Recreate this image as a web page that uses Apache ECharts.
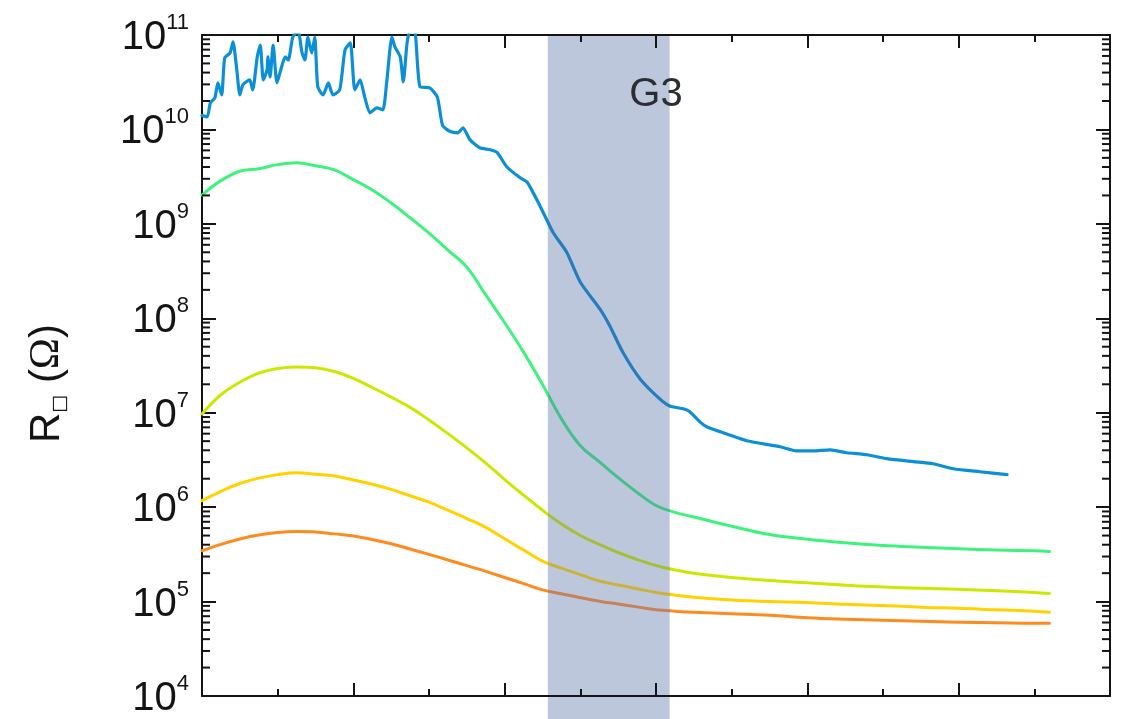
<!DOCTYPE html>
<html>
<head>
<meta charset="utf-8">
<script src="https://cdn.jsdelivr.net/npm/echarts@6/dist/echarts.min.js"></script>
<style>
  html, body { margin: 0; padding: 0; background: #ffffff; }
  #chart { width: 1129px; height: 719px; }
</style>
</head>
<body>
<div id="chart"></div>
<script>
// Sheet resistance sweeps (log scale). Shared x positions for the smooth curves.
const sweepX = [0, 0.25, 0.5, 0.75, 1, 1.25, 1.5, 1.75, 2, 2.25, 2.5, 2.75, 3, 3.25, 3.5, 3.75, 4, 4.25, 4.5,
  4.75, 5, 5.25, 5.5, 5.75, 6, 6.25, 6.5, 7, 7.5, 8, 8.5, 9, 9.5, 10, 10.5, 11, 11.2];

const rGreen = [2.02e9, 2.87e9, 3.61e9, 3.84e9, 4.24e9, 4.43e9, 4.12e9, 3.73e9, 2.94e9, 2.28e9, 1.66e9, 1.16e9,
  7.98e8, 5.28e8, 3.47e8, 1.77e8, 8.96e7, 4.38e7, 1.99e7, 8.61e6, 4.47e6, 3.03e6, 2.05e6, 1.43e6, 1.04e6, 8.8e5,
  7.87e5, 6.28e5, 5.13e5, 4.57e5, 4.19e5, 3.93e5, 3.77e5, 3.63e5, 3.52e5, 3.45e5, 3.4e5];
const rYellowGreen = [9.7e6, 1.55e7, 2.1e7, 2.62e7, 2.94e7, 3.05e7, 2.99e7, 2.73e7, 2.31e7, 1.85e7, 1.46e7, 1.14e7,
  8.38e6, 6.01e6, 4.24e6, 2.93e6, 1.96e6, 1.34e6, 9.27e5, 6.62e5, 5.01e5, 4.03e5, 3.31e5, 2.79e5, 2.41e5, 2.16e5,
  1.99e5, 1.80e5, 1.67e5, 1.58e5, 1.49e5, 1.43e5, 1.38e5, 1.35e5, 1.30e5, 1.25e5, 1.22e5];
const rYellow = [1.17e6, 1.47e6, 1.78e6, 2.03e6, 2.21e6, 2.32e6, 2.23e6, 2.14e6, 1.94e6, 1.75e6, 1.54e6, 1.32e6,
  1.13e6, 9.28e5, 7.57e5, 6.11e5, 4.63e5, 3.51e5, 2.68e5, 2.26e5, 1.93e5, 1.65e5, 1.50e5, 1.37e5, 1.25e5, 1.17e5,
  1.11e5, 1.04e5, 1.0e5, 9.8e4, 9.35e4, 9.1e4, 8.7e4, 8.5e4, 8.18e4, 7.9e4, 7.7e4];
const rOrange = [3.45e5, 4.03e5, 4.6e5, 5.06e5, 5.39e5, 5.52e5, 5.46e5, 5.21e5, 4.95e5, 4.54e5, 4.1e5, 3.6e5,
  3.16e5, 2.76e5, 2.4e5, 2.09e5, 1.8e5, 1.55e5, 1.33e5, 1.21e5, 1.10e5, 1.01e5, 9.42e4, 8.79e4, 8.2e4, 7.91e4,
  7.7e4, 7.43e4, 7.16e4, 6.74e4, 6.5e4, 6.34e4, 6.19e4, 6.04e4, 5.97e4, 5.9e4, 5.9e4];

// Highest-resistance trace: noisy at the start, so it keeps its own x positions.
const blueTrace = [
  [0, 1.40e10], [0.07, 1.36e10], [0.11, 1.91e10], [0.17, 2.16e10], [0.21, 3.11e10], [0.26, 2.32e10],
  [0.30, 5.71e10], [0.37, 6.45e10], [0.41, 8.44e10], [0.46, 4.27e10], [0.50, 2.32e10], [0.54, 2.97e10],
  [0.63, 3.35e10], [0.67, 2.62e10], [0.73, 5.86e10], [0.77, 7.84e10], [0.81, 3.35e10], [0.86, 4.27e10],
  [0.87, 5.86e10], [0.90, 3.6e10], [0.94, 7.84e10], [0.99, 3.11e10], [1.03, 3.97e10], [1.10, 5.86e10],
  [1.14, 5.44e10], [1.20, 9.5e10], [1.27, 1.1e11], [1.32, 6.6e10], [1.36, 5.44e10], [1.40, 9.5e10],
  [1.45, 6.45e10], [1.49, 9.5e10], [1.53, 2.83e10], [1.60, 2.32e10], [1.67, 3.11e10], [1.73, 2.32e10],
  [1.82, 2.62e10], [1.89, 6.95e10], [1.96, 8.24e10], [2.02, 2.62e10], [2.09, 3.35e10], [2.15, 2.21e10],
  [2.22, 1.50e10], [2.31, 1.69e10], [2.39, 1.61e10], [2.44, 3.11e10], [2.51, 9.5e10], [2.55, 7.47e10],
  [2.62, 5.86e10], [2.66, 3.19e10], [2.71, 8.24e10], [2.75, 1.1e11], [2.81, 1.1e11], [2.88, 2.83e10],
  [3.01, 2.75e10], [3.11, 2.2e10], [3.18, 1.1e10], [3.28, 9.5e9], [3.38, 9.2e9], [3.45, 1.04e10],
  [3.54, 7.8e9], [3.67, 6.4e9], [3.81, 6.1e9], [3.90, 5.7e9], [4.03, 4.0e9], [4.20, 3.09e9],
  [4.30, 2.74e9], [4.47, 1.53e9], [4.64, 8.1e8], [4.82, 5.0e8], [5.00, 2.41e8], [5.26, 1.25e8],
  [5.39, 8.3e7], [5.56, 4.39e7], [5.79, 2.28e7], [6.05, 1.40e7], [6.18, 1.18e7], [6.36, 1.10e7],
  [6.45, 1.02e7], [6.58, 8.0e6], [6.67, 7.1e6], [6.85, 6.28e6], [7.20, 5.05e6], [7.64, 4.36e6],
  [7.86, 3.95e6], [8.07, 3.95e6], [8.30, 4.05e6], [8.52, 3.77e6], [8.79, 3.59e6], [9.05, 3.26e6],
  [9.40, 3.03e6], [9.66, 2.88e6], [9.93, 2.55e6], [10.28, 2.37e6], [10.64, 2.21e6]
];

// Shaded gate window and its label.
const gateBand = [4.57, 6.18];
const gateLabel = 'G3';
const gateLabelAt = [6.0, 2.3e10];

// Axis ranges.
const xRange = [0, 12];
const rRange = [1e4, 1e11];

const INK = '#141414';
const BAND = '#bdc7db';
const SANS = '"Liberation Sans", Arial, Helvetica, sans-serif';

// Trace colours: [outside the window, seen through the window].
const palette = {
  blue: ['#0b8fd6', '#237dbe'],
  green: ['#3ef27e', '#45c08a'],
  yellowGreen: ['#cde800', '#a6be3c'],
  yellow: ['#ffd200', '#c9b23e'],
  orange: ['#ff8a1e', '#c4825a']
};

function zip(xs, ys) { return xs.map((x, i) => [x, ys[i]]); }

const chart = echarts.init(document.getElementById('chart'), null, { renderer: 'canvas' });

const xAxisCommon = {
  type: 'value', min: xRange[0], max: xRange[1], interval: 2,
  axisLine: { onZero: false, lineStyle: { color: INK, width: 2 } },
  axisTick: { show: true, inside: true, length: 13, lineStyle: { color: INK, width: 2 } },
  minorTick: { show: true, splitNumber: 2, length: 7, lineStyle: { color: INK, width: 2 } },
  axisLabel: { show: false },
  splitLine: { show: false },
  minorSplitLine: { show: false }
};

const yAxisCommon = {
  type: 'log', logBase: 10, min: rRange[0], max: rRange[1], splitNumber: 7,
  axisLine: { onZero: false, lineStyle: { color: INK, width: 2 } },
  axisTick: { show: true, inside: true, length: 14, lineStyle: { color: INK, width: 2 } },
  splitLine: { show: false }
};

// Minor log ticks (2..9 x 10^n) on both vertical frame edges.
function renderLogMinorTicks(params, api) {
  const cs = params.coordSys;
  const left = cs.x, right = cs.x + cs.width;
  const lo = Math.round(Math.log10(rRange[0])), hi = Math.round(Math.log10(rRange[1]));
  const kids = [];
  for (let e = lo; e < hi; e++) {
    for (let k = 2; k <= 9; k++) {
      const y = api.coord([xRange[0], k * Math.pow(10, e)])[1];
      kids.push({ type: 'line', shape: { x1: left, y1: y, x2: left + 8, y2: y }, style: { stroke: INK, lineWidth: 2 } });
      kids.push({ type: 'line', shape: { x1: right - 8, y1: y, x2: right, y2: y }, style: { stroke: INK, lineWidth: 2 } });
    }
  }
  return { type: 'group', children: kids };
}

// Gate window: from the top of the frame down to the bottom edge of the canvas.
function renderGateBand(params, api) {
  const p0 = api.coord([api.value(0), rRange[1]]);
  const p1 = api.coord([api.value(1), rRange[1]]);
  return {
    type: 'rect',
    shape: { x: p0[0], y: p0[1], width: p1[0] - p0[0], height: api.getHeight() - p0[1] },
    style: { fill: BAND }
  };
}

function renderGateLabel(params, api) {
  const t = api.coord([api.value(0), api.value(1)]);
  return {
    type: 'text',
    style: {
      text: gateLabel, x: t[0], y: t[1],
      fill: '#2a2d33', fontSize: 40, fontFamily: SANS,
      align: 'center', verticalAlign: 'middle',
      textAlign: 'center', textVerticalAlign: 'middle'
    }
  };
}

function curve(name, data, width, smooth) {
  return {
    name, type: 'line', data, xAxisIndex: 0, yAxisIndex: 0,
    showSymbol: false, symbol: 'none', smooth, clip: true, z: 3,
    lineStyle: { width, cap: 'round', join: 'round' },
    emphasis: { disabled: true }, silent: true
  };
}

// Each trace changes tint where it runs through the gate window.
const traceOrder = ['orange', 'yellow', 'yellowGreen', 'green', 'blue'];
const windowTint = traceOrder.map((key, i) => ({
  type: 'piecewise', show: false, dimension: 0, seriesIndex: i,
  pieces: [
    { lt: gateBand[0], color: palette[key][0] },
    { gte: gateBand[0], lte: gateBand[1], color: palette[key][1] },
    { gt: gateBand[1], color: palette[key][0] }
  ]
}));

chart.setOption({
  animation: false,
  backgroundColor: '#ffffff',
  grid: { left: 202, top: 35, right: 19, bottom: 21, containLabel: false },
  visualMap: windowTint,
  xAxis: [
    Object.assign({}, xAxisCommon, { position: 'bottom' }),
    Object.assign({}, xAxisCommon, { position: 'top' })
  ],
  yAxis: [
    Object.assign({}, yAxisCommon, {
      position: 'left',
      axisLabel: {
        show: true, margin: 13,
        formatter: v => '{b|10}{s|' + Math.round(Math.log10(v)) + '}',
        rich: {
          b: { fontSize: 40, fontFamily: SANS, color: INK, lineHeight: 46, verticalAlign: 'bottom' },
          s: { fontSize: 22, fontFamily: SANS, color: INK, lineHeight: 24, verticalAlign: 'top' }
        }
      },
      name: '{r|R}{q|□}{p| (}{o|Ω}{p|)}',
      nameLocation: 'middle', nameRotate: 90, nameGap: 132,
      nameTextStyle: {
        padding: [0, 36, 0, 0],
        rich: {
          r: { fontSize: 42, fontFamily: SANS, color: INK, lineHeight: 46, verticalAlign: 'middle' },
          q: { fontSize: 19, fontFamily: '"DejaVu Sans", sans-serif', color: INK, lineHeight: 20, verticalAlign: 'bottom' },
          p: { fontSize: 42, fontFamily: SANS, color: INK, lineHeight: 46, verticalAlign: 'middle' },
          o: { fontSize: 42, fontFamily: '"Liberation Serif", "Times New Roman", serif', color: INK, lineHeight: 46, verticalAlign: 'middle' }
        }
      }
    }),
    Object.assign({}, yAxisCommon, { position: 'right', axisLabel: { show: false } })
  ],
  series: [
    curve('orange', zip(sweepX, rOrange), 3, 0.4),
    curve('yellow', zip(sweepX, rYellow), 3, 0.4),
    curve('yellow-green', zip(sweepX, rYellowGreen), 3, 0.4),
    curve('green', zip(sweepX, rGreen), 3, 0.4),
    curve('blue', blueTrace, 3.2, 0.2),
    {
      type: 'custom', name: 'log minor ticks', renderItem: renderLogMinorTicks,
      data: [[xRange[0], rRange[0]]], silent: true, z: 5, clip: false
    },
    {
      type: 'custom', name: 'gate window', renderItem: renderGateBand,
      data: [gateBand], silent: true, z: -1, clip: false
    },
    {
      type: 'custom', name: 'gate label', renderItem: renderGateLabel,
      data: [gateLabelAt], silent: true, z: 6, clip: false
    }
  ]
});
</script>
</body>
</html>
